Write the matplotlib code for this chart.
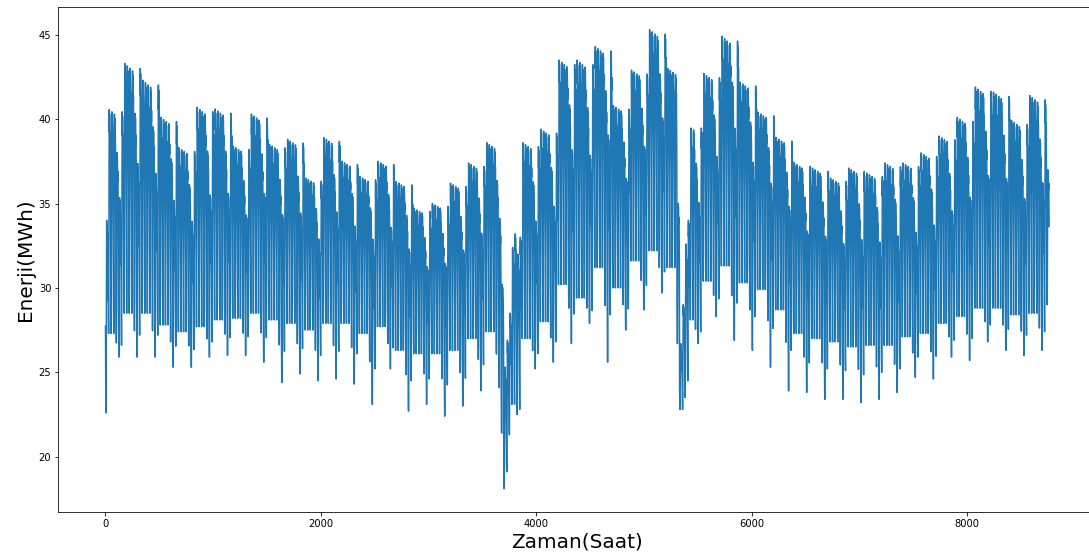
import numpy as np
import matplotlib
matplotlib.use("Agg")
import matplotlib.pyplot as plt

# weekly envelope (weeks start on Tue 1 Jan, hour 0)
WEEK_PEAK = [40.7, 43.3, 42.3, 40.1, 38.3, 40.7, 40.6, 38.4, 40.3, 38.5,
             38.8, 36.5, 38.9, 37.5, 36.6, 37.5, 36.3, 34.7, 35.0, 36.2,
             37.4, 38.6, 33.2, 38.6, 39.4, 43.5, 43.5, 44.3, 40.8, 42.9,
             45.3, 43.0, 39.7, 42.7, 44.9, 42.2, 40.4, 38.9, 37.4, 37.1,
             36.5, 37.1, 36.8, 37.4, 37.4, 38.0, 39.0, 40.1, 41.9, 41.6,
             39.9, 41.4, 37.0]
WEEK_LOW = [27.3, 28.5, 28.5, 27.8, 27.4, 27.7, 28.1, 28.2, 28.5, 28.1,
            27.9, 27.5, 27.9, 27.9, 27.3, 27.7, 26.3, 26.1, 26.1, 26.3,
            27.0, 27.4, 23.1, 27.0, 28.0, 30.2, 29.4, 31.2, 30.0, 31.6,
            32.2, 31.2, 28.1, 30.4, 31.3, 30.3, 29.9, 28.7, 27.3, 27.0,
            26.8, 26.5, 26.6, 26.6, 27.1, 27.3, 27.9, 28.3, 28.8, 28.8,
            28.4, 28.5, 29.0]
WEEK_DIP = [25.9, 25.9, 25.9, 25.3, 25.3, 25.9, 26.0, 26.0, 25.6, 24.4,
            24.9, 24.5, 24.6, 24.3, 23.1, 25.2, 22.7, 23.1, 22.4, 23.0,
            23.9, 24.1, 22.5, 25.2, 25.6, 26.7, 27.9, 25.6, 27.5, 28.7,
            29.7, 26.7, 26.7, 28.3, 26.9, 26.3, 25.3, 23.9, 23.8, 23.4,
            23.4, 23.2, 23.4, 23.8, 24.7, 24.6, 25.9, 25.7, 26.8, 26.3,
            26.0, 26.3, 27.0]

# day-of-week (Tue..Mon): share of weekly peak reached, weight toward Sunday dip
DOW_PEAK = [1.0, 0.99, 0.98, 0.97, 0.8, 0.6, 0.98]
DOW_DIP = [0.0, 0.0, 0.0, 0.0, 0.4, 1.0, 0.5]

# typical hourly shape of a day (0 = night minimum, 1 = daily peak)
HOUR_SHAPE = [0.45, 0.30, 0.18, 0.08, 0.02, 0.0, 0.08, 0.30, 0.60, 0.85,
              0.95, 1.0, 0.90, 0.95, 0.98, 0.96, 0.92, 0.88, 0.85, 0.90,
              0.88, 0.80, 0.70, 0.58]

# holidays (day of year, 0-based): daily min / max
HOLIDAY_DAY = [0, 153, 154, 155, 156, 157, 158, 159, 221, 222, 223, 224, 225]
HOLIDAY_MIN = [22.6, 21.4, 18.1, 19.1, 21.3, 23.1, 23.1, 22.5, 26.7, 22.8, 22.8, 23.5, 24.5]
HOLIDAY_MAX = [34.0, 30.2, 25.3, 26.9, 28.5, 32.4, 33.2, 32.0, 35.0, 26.7, 29.0, 32.6, 34.0]

N_HOURS = 8760


def build_series():
    values = []
    holidays = dict(zip(HOLIDAY_DAY, zip(HOLIDAY_MIN, HOLIDAY_MAX)))
    for day in range(N_HOURS // 24):
        wk, dow = divmod(day, 7)
        hi, lo, dip = WEEK_PEAK[wk], WEEK_LOW[wk], WEEK_DIP[wk]
        dmin = lo + (dip - lo) * DOW_DIP[dow]
        dmax = lo + (hi - lo) * DOW_PEAK[dow]
        if day in holidays:
            dmin, dmax = holidays[day]
        for s in HOUR_SHAPE:
            values.append(dmin + (dmax - dmin) * s)
    return np.array(values)


def main() -> None:
    energy = build_series()
    fig = plt.figure(figsize=(1089 / 72, 555 / 72), dpi=72)
    # right spine falls just outside the cropped reference image
    ax = fig.add_axes([58.3 / 1089, 1 - 511.7 / 555, 1038 / 1089, 505 / 555])
    ax.plot(np.arange(len(energy)), energy, color="#1f77b4", linewidth=1.5)
    ax.set_xlabel("Zaman(Saat)", fontsize=20)
    ax.set_ylabel("Enerji(MWh)", fontsize=20)
    ax.tick_params(labelsize=10)
    fig.savefig("out.png", dpi=72)


if __name__ == "__main__":
    main()
